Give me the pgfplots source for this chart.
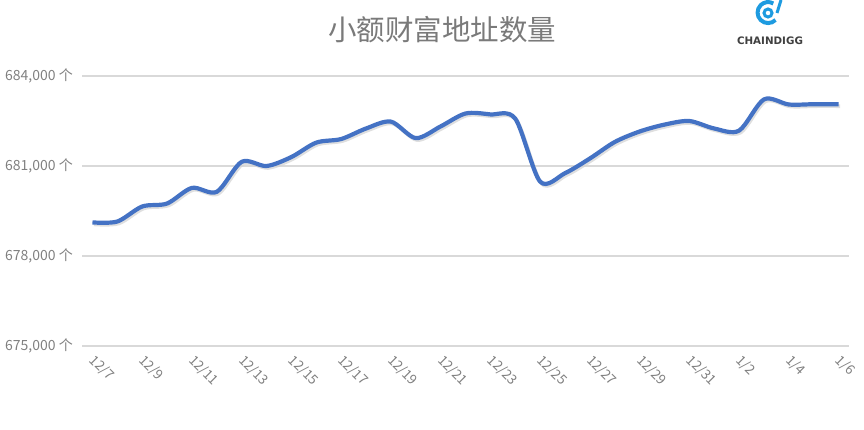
\documentclass[border=0pt]{standalone}
\usepackage{pgfplots}
\pgfplotsset{compat=1.18}
\usepackage{fontspec}
\setmainfont{Noto Sans CJK SC}
\newfontfamily\logofont{DejaVu Sans}
\definecolor{linec}{HTML}{4472C4}
\definecolor{gridc}{HTML}{D9D9D9}
\definecolor{tickc}{HTML}{808080}
\definecolor{titlec}{HTML}{7A7A7A}
\definecolor{logoc}{HTML}{1E9BE0}
\pgfplotstableread{
x y
0 679120
1 679150
2 679650
3 679750
4 680270
5 680140
6 681140
7 681000
8 681300
9 681780
10 681900
11 682250
12 682480
13 681930
14 682320
15 682750
16 682720
17 682580
18 680480
19 680760
20 681250
21 681800
22 682150
23 682380
24 682500
25 682250
26 682180
27 683220
28 683050
29 683060
30 683060
}\datatable
\begin{document}
\begin{tikzpicture}[x=1pt,y=1pt]
\useasboundingbox (0,0) rectangle (864,429);
\begin{axis}[
  at={(82pt,83pt)}, anchor=south west,
  scale only axis, width=767pt, height=270pt,
  xmin=-0.42, xmax=30.42, ymin=675000, ymax=684000,
  scaled y ticks=false,
  axis line style={draw=none},
  major tick length=0pt,
  ymajorgrids, grid style={gridc, line width=1.5pt},
  ytick={675000,678000,681000,684000},
  yticklabels={{675,000 个},{678,000 个},{681,000 个},{684,000 个}},
  xtick={0,2,...,30},
  xticklabels={12/7,12/9,12/11,12/13,12/15,12/17,12/19,12/21,12/23,12/25,12/27,12/29,12/31,1/2,1/4,1/6},
  xticklabel style={xshift=-1.5pt, yshift=-11.5pt, rotate=-45, anchor=west, font=\fontsize{13.5}{14}\selectfont, text=tickc, inner sep=1pt},
  yticklabel style={font=\fontsize{14}{15}\selectfont, text=tickc, inner sep=0pt, xshift=-9pt},
  clip=false,
]
\addplot[smooth, tension=0.5, line width=3.6pt, color=gray!35, opacity=0.7, xshift=1.5pt, yshift=-2pt] table[x=x,y=y] {\datatable};
\addplot[smooth, tension=0.5, line width=4.2pt, color=linec] table[x=x,y=y] {\datatable};
\end{axis}
\node[text=titlec, font=\fontsize{28.5}{31}\selectfont] at (442,399) {小额财富地址数量};
% logo
\begin{scope}
\clip (740,400) rectangle (800,429);
\draw[logoc, line width=4pt] (775.5,409) arc[start angle=-45, end angle=-300, radius=10.5];
\draw[logoc, line width=3pt] (768,416) circle[radius=4];
\draw[logoc, line width=3pt] (777,416) -- (781,429);
\end{scope}
\node[font=\logofont\bfseries\fontsize{10.3}{11}\selectfont, text=black!75] at (770,388) {CHAINDIGG};
\end{tikzpicture}
\end{document}
